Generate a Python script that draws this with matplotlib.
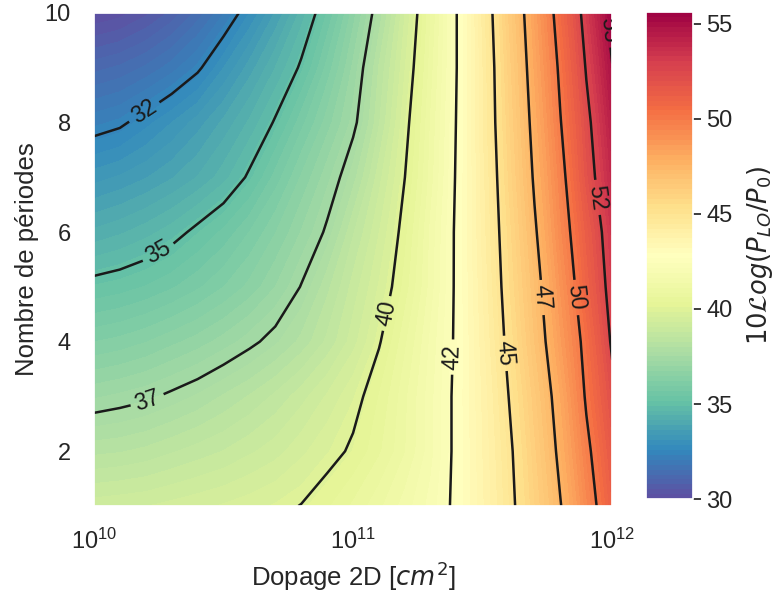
import numpy as np
import matplotlib
matplotlib.use('Agg')
import matplotlib.pyplot as plt
import seaborn as sns

sns.set(font_scale=1.5)
plt.rcParams['font.family'] = ['Liberation Sans', 'DejaVu Sans']

# exposant du dopage 2D (log10 cm^-2) et nombre de periodes
exposant = [10.0, 10.1, 10.2, 10.3, 10.4, 10.5, 10.6, 10.7, 10.8, 10.9, 11.0,
            11.1, 11.2, 11.3, 11.4, 11.5, 11.6, 11.7, 11.8, 11.9, 12.0]
periodes = [1, 2, 3, 4, 5, 6, 7, 8, 9, 10]

# 10 log(P_LO/P0), une ligne par nombre de periodes
puissance = [
    [39.2, 39.25, 39.3, 39.4, 39.5, 39.6, 39.72, 39.86, 40.02, 40.3, 40.65,
     41.05, 41.5, 42.0, 42.7, 43.65, 44.7, 46.0, 47.45, 49.3, 51.2],
    [38.2, 38.25, 38.35, 38.5, 38.65, 38.8, 39.0, 39.2, 39.5, 39.8, 40.1,
     40.55, 41.1, 41.8, 42.7, 43.7, 44.8, 46.2, 47.8, 49.7, 51.6],
    [37.2, 37.3, 37.42, 37.6, 37.8, 38.05, 38.3, 38.6, 38.95, 39.35, 39.8,
     40.35, 41.05, 41.8, 42.7, 43.75, 45.0, 46.45, 48.1, 50.15, 52.1],
    [36.2, 36.3, 36.45, 36.65, 36.85, 37.1, 37.38, 37.7, 38.1, 38.6, 39.2,
     39.95, 40.8, 41.7, 42.65, 43.85, 45.25, 46.8, 48.55, 50.45, 52.7],
    [35.2, 35.3, 35.45, 35.65, 35.9, 36.2, 36.55, 36.98, 37.53, 38.2, 38.9,
     39.6, 40.45, 41.5, 42.65, 43.95, 45.45, 47.05, 48.9, 50.95, 53.1],
    [34.2, 34.35, 34.55, 34.8, 35.15, 35.5, 35.95, 36.45, 37.0, 37.6, 38.5,
     39.3, 40.25, 41.45, 42.65, 44.05, 45.6, 47.35, 49.3, 51.3, 53.4],
    [33.25, 33.4, 33.6, 33.85, 34.15, 34.55, 35.1, 35.8, 36.5, 37.15, 37.9,
     38.95, 40.0, 41.25, 42.6, 44.1, 45.8, 47.65, 49.6, 51.85, 53.95],
    [32.25, 32.4, 32.75, 33.1, 33.5, 33.95, 34.45, 35.07, 35.85, 36.6, 37.35,
     38.5, 39.8, 41.15, 42.55, 44.2, 45.95, 47.9, 49.95, 52.15, 54.4],
    [31.2, 31.35, 31.6, 31.95, 32.4, 33.1, 33.75, 34.4, 35.1, 36.05, 37.05,
     38.3, 39.55, 41.0, 42.5, 44.2, 46.1, 48.15, 50.25, 52.6, 54.95],
    [30.0, 30.15, 30.45, 30.85, 31.4, 32.05, 32.85, 33.65, 34.5, 35.45, 36.6,
     37.85, 39.3, 40.85, 42.5, 44.3, 46.3, 48.4, 50.65, 53.05, 55.6],
]

# niveaux des lignes de contour
niveaux = [32.5, 35, 37.5, 40, 42.5, 45, 47.5, 50, 52.5, 55]
ticks_cb = [30, 35, 40, 45, 50, 55]

dopage = 10.0 ** np.array(exposant)
X, Y = np.meshgrid(dopage, periodes)
Z = np.array(puissance)

# positions des etiquettes (dopage, periodes)
pos_labels = [(1.57e10, 8.17), (1.75e10, 5.67), (1.6e10, 2.93),
              (1.33e11, 4.52), (2.37e11, 3.72), (3.96e11, 3.79),
              (5.5e11, 4.81), (7.4e11, 4.81), (9.0e11, 6.64),
              (9.66e11, 9.69)]

fig = plt.figure(figsize=(7.76, 6.05), dpi=100)
ax = fig.add_axes([0.121, 0.1636, 0.668, 0.815])
cax = fig.add_axes([0.8325, 0.175, 0.0606, 0.805])

cf = ax.contourf(X, Y, Z, levels=np.linspace(Z.min(), Z.max(), 100),
                 cmap='Spectral_r')
cs = ax.contour(X, Y, Z, levels=niveaux, colors='0.1', linewidths=1.8)
ax.set_xscale('log')
ax.set_xlim(1e10, 1e12)
ax.set_ylim(1, 10)
ax.set_yticks([2, 4, 6, 8, 10])
ax.clabel(cs, fmt='%d', fontsize=16.5, inline=True, manual=pos_labels)

pad0 = plt.rcParams['xtick.major.pad']
ax.tick_params(axis='x', labelsize=17, pad=pad0 + 7)
ax.tick_params(axis='y', labelsize=17, pad=pad0 + 7)
ax.set_xlabel('Dopage 2D [$cm^2$]', fontsize=18.5)
ax.set_ylabel('Nombre de périodes', fontsize=18.5)

cb = fig.colorbar(cf, cax=cax, ticks=ticks_cb)
cb.ax.tick_params(labelsize=17)
cb.set_label(r'$10\mathcal{L}og(P_{LO}/P_0)$', fontsize=18.5, labelpad=9)

fig.savefig('out.png', dpi=100)
